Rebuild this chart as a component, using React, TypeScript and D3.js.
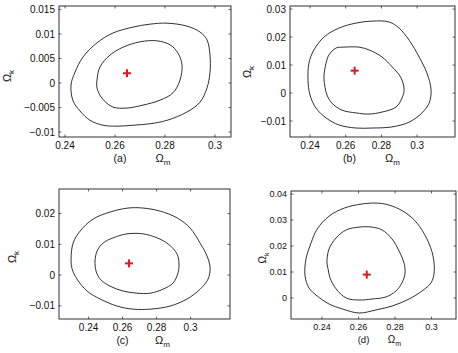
import React from 'react';
import * as d3 from 'd3';

type Pt = [number, number];

// ---------- data (Omega_m, Omega_k) ----------
const xTicks = [0.24, 0.26, 0.28, 0.3];
const yTicksA = [-0.01, -0.005, 0, 0.005, 0.01, 0.015];
const yTicksB = [-0.01, 0, 0.01, 0.02, 0.03];
const yTicksC = [-0.01, 0, 0.01, 0.02];
const yTicksD = [0, 0.01, 0.02, 0.03, 0.04];
const panelLabels = ['(a)', '(b)', '(c)', '(d)'];

const outerA: Pt[] = [
  [0.2424, -0.0004], [0.2440, 0.0022], [0.2472, 0.0053], [0.2528, 0.0082], [0.2592, 0.0102],
  [0.2672, 0.0114], [0.2740, 0.0120], [0.2808, 0.0122], [0.2888, 0.0116], [0.2940, 0.0104],
  [0.2968, 0.0088], [0.2980, 0.0057], [0.2980, 0.0022], [0.2968, -0.0010], [0.2940, -0.0039],
  [0.2888, -0.0059], [0.2808, -0.0076], [0.2740, -0.0083], [0.2672, -0.0086], [0.2608, -0.0088],
  [0.2552, -0.0086], [0.2500, -0.0076], [0.2460, -0.0057], [0.2432, -0.0036],
];
const innerA: Pt[] = [
  [0.2528, 0.0006], [0.2540, 0.0033], [0.2580, 0.0057], [0.2632, 0.0073], [0.2700, 0.0084],
  [0.2768, 0.0086], [0.2820, 0.0078], [0.2852, 0.0061], [0.2868, 0.0037], [0.2860, 0.0006],
  [0.2832, -0.0020], [0.2780, -0.0035], [0.2712, -0.0045], [0.2648, -0.0051], [0.2592, -0.0049],
  [0.2548, -0.0031], [0.2528, -0.0010],
];
const bestA: Pt = [0.2648, 0.002];

const outerB: Pt[] = [
  [0.2389, 0.0046], [0.2394, 0.0107], [0.2422, 0.0154], [0.2478, 0.0200], [0.2562, 0.0232],
  [0.2658, 0.0250], [0.2747, 0.0257], [0.2843, 0.0254], [0.2899, 0.0232], [0.2955, 0.0189],
  [0.3011, 0.0129], [0.3055, 0.0071], [0.3078, 0.0011], [0.3067, -0.0036], [0.3027, -0.0071],
  [0.2955, -0.0104], [0.2859, -0.0121], [0.2747, -0.0125], [0.2658, -0.0125], [0.2562, -0.0114],
  [0.2490, -0.0089], [0.2434, -0.0054], [0.2400, -0.0007],
];
const innerB: Pt[] = [
  [0.2478, 0.0057], [0.2490, 0.0107], [0.2506, 0.0136], [0.2546, 0.0161], [0.2590, 0.0164],
  [0.2675, 0.0164], [0.2731, 0.0154], [0.2803, 0.0129], [0.2861, 0.0093], [0.2910, 0.0054],
  [0.2927, 0.0011], [0.2915, -0.0018], [0.2882, -0.0050], [0.2803, -0.0068], [0.2731, -0.0075],
  [0.2658, -0.0071], [0.2579, -0.0061], [0.2523, -0.0036], [0.2495, -0.0007], [0.2484, 0.0021],
];
const bestB: Pt = [0.265, 0.008];

const outerC: Pt[] = [
  [0.2297, 0.0052], [0.2309, 0.0104], [0.2350, 0.0143], [0.2426, 0.0182], [0.2526, 0.0205],
  [0.2632, 0.0218], [0.2721, 0.0218], [0.2821, 0.0208], [0.2921, 0.0186], [0.2997, 0.0153],
  [0.3056, 0.0104], [0.3097, 0.0062], [0.3115, 0.0023], [0.3103, -0.0013], [0.3056, -0.0046],
  [0.2979, -0.0078], [0.2879, -0.0101], [0.2762, -0.0111], [0.2662, -0.0111], [0.2568, -0.0101],
  [0.2468, -0.0078], [0.2391, -0.0052], [0.2332, -0.0013], [0.2303, 0.0020],
];
const innerC: Pt[] = [
  [0.2438, 0.0046], [0.2450, 0.0078], [0.2485, 0.0104], [0.2544, 0.0121], [0.2626, 0.0134],
  [0.2721, 0.0134], [0.2803, 0.0121], [0.2868, 0.0101], [0.2921, 0.0068], [0.2932, 0.0036],
  [0.2926, 0.0007], [0.2897, -0.0026], [0.2838, -0.0046], [0.2762, -0.0059], [0.2685, -0.0059],
  [0.2603, -0.0052], [0.2526, -0.0036], [0.2468, -0.0013], [0.2444, 0.0013],
];
const bestC: Pt = [0.2638, 0.0038];

const outerD: Pt[] = [
  [0.2307, 0.0085], [0.2312, 0.0150], [0.2340, 0.0212], [0.2373, 0.0265], [0.2438, 0.0315],
  [0.2521, 0.0346], [0.2619, 0.0362], [0.2712, 0.0365], [0.2784, 0.0354], [0.2860, 0.0327],
  [0.2921, 0.0288], [0.2975, 0.0227], [0.3008, 0.0162], [0.3014, 0.0096], [0.2997, 0.0058],
  [0.2948, 0.0027], [0.2877, -0.0004], [0.2784, -0.0031], [0.2696, -0.0046], [0.2603, -0.0058],
  [0.2510, -0.0042], [0.2438, -0.0023], [0.2373, 0.0008], [0.2329, 0.0038],
];
const innerD: Pt[] = [
  [0.2427, 0.0135], [0.2438, 0.0188], [0.2477, 0.0231], [0.2532, 0.0262], [0.2603, 0.0273],
  [0.2674, 0.0273], [0.2729, 0.0262], [0.2784, 0.0227], [0.2822, 0.0181], [0.2849, 0.0135],
  [0.2855, 0.0096], [0.2838, 0.0058], [0.2805, 0.0027], [0.2751, 0.0004], [0.2674, -0.0004],
  [0.2603, -0.0008], [0.2532, 0.0000], [0.2477, 0.0035], [0.2444, 0.0077], [0.2433, 0.0112],
];
const bestD: Pt = [0.2645, 0.009];

// axis limits per panel
const xDomains: Pt[] = [[0.2376, 0.3064], [0.2288, 0.3212], [0.2226, 0.3232], [0.2230, 0.3134]];
const yDomains: Pt[] = [[-0.011, 0.0157], [-0.0157, 0.0311], [-0.0143, 0.0280], [-0.0081, 0.0412]];

// ---------- layout ----------
const boxes = [
  { left: 59, right: 231, top: 6, bottom: 137, font: 10, labOff: -25, omOff: 18, ylabX: 11, ylabY: 76, xlabY: 162 },
  { left: 290, right: 455, top: 6, bottom: 137, font: 10, labOff: -23, omOff: 20, ylabX: 251, ylabY: 72, xlabY: 162 },
  { left: 59, right: 230, top: 189, bottom: 319, font: 10, labOff: -22, omOff: 18, ylabX: 16, ylabY: 257, xlabY: 344 },
  { left: 291, right: 456, top: 191, bottom: 319, font: 9, labOff: -10, omOff: 21, ylabX: 266, ylabY: 258, xlabY: 343 },
];

const panels = [
  { outer: outerA, inner: innerA, best: bestA, yTicks: yTicksA },
  { outer: outerB, inner: innerB, best: bestB, yTicks: yTicksB },
  { outer: outerC, inner: innerC, best: bestC, yTicks: yTicksC },
  { outer: outerD, inner: innerD, best: bestD, yTicks: yTicksD },
];

const FONT = '"Liberation Sans", Arial, Helvetica, sans-serif';
const fmt = (v: number) => String(+v.toFixed(4)).replace('-', '\u2212');

function Panel({ i }: { i: number }) {
  const b = boxes[i];
  const p = panels[i];
  const x = d3.scaleLinear().domain(xDomains[i]).range([b.left, b.right]);
  const y = d3.scaleLinear().domain(yDomains[i]).range([b.bottom, b.top]);
  const line = d3
    .line<Pt>()
    .x((d) => x(d[0]))
    .y((d) => y(d[1]))
    .curve(d3.curveCatmullRomClosed.alpha(0.5));
  const tl = 2.5;
  const cx = (b.left + b.right) / 2;
  const bx = x(p.best[0]);
  const by = y(p.best[1]);
  return (
    <g fontFamily={FONT} fill="#111">
      <path d={line(p.outer) || ''} fill="none" stroke="#1a1a1a" strokeWidth={0.9} />
      <path d={line(p.inner) || ''} fill="none" stroke="#1a1a1a" strokeWidth={0.9} />
      <g stroke="#e8141b" strokeWidth={2}>
        <line x1={bx - 4} x2={bx + 4} y1={by} y2={by} />
        <line x1={bx} x2={bx} y1={by - 4} y2={by + 4} />
      </g>
      <rect x={b.left} y={b.top} width={b.right - b.left} height={b.bottom - b.top} fill="none" stroke="#000" strokeWidth={0.8} />
      {xTicks.map((t) => (
        <g key={'x' + t}>
          <line x1={x(t)} x2={x(t)} y1={b.bottom} y2={b.bottom - tl} stroke="#000" strokeWidth={0.6} />
          <line x1={x(t)} x2={x(t)} y1={b.top} y2={b.top + tl} stroke="#000" strokeWidth={0.6} />
          <text x={x(t)} y={b.bottom + 4 + b.font * 0.8} fontSize={b.font} textAnchor="middle">
            {fmt(t)}
          </text>
        </g>
      ))}
      {p.yTicks.map((t) => (
        <g key={'y' + t}>
          <line x1={b.left} x2={b.left + tl} y1={y(t)} y2={y(t)} stroke="#000" strokeWidth={0.6} />
          <line x1={b.right} x2={b.right - tl} y1={y(t)} y2={y(t)} stroke="#000" strokeWidth={0.6} />
          <text x={b.left - 4} y={y(t) + b.font * 0.36} fontSize={b.font} textAnchor="end">
            {fmt(t)}
          </text>
        </g>
      ))}
      <text x={cx + b.labOff} y={b.xlabY} fontSize={b.font + 0.5} textAnchor="middle">
        {panelLabels[i]}
      </text>
      <text x={cx + b.omOff} y={b.xlabY} fontSize={b.font + 1} textAnchor="middle">
        Ω<tspan fontSize={b.font - 2} dy={3}>m</tspan>
      </text>
      <text
        transform={`translate(${b.ylabX},${b.ylabY}) rotate(-90)`}
        fontSize={b.font + 1}
        textAnchor="middle"
      >
        Ω<tspan fontSize={b.font - 2} dy={3}>k</tspan>
      </text>
    </g>
  );
}

export default function App() {
  return (
    <svg
      width={458}
      height={353}
      viewBox="0 0 458 353"
      style={{ position: 'absolute', left: 0, top: 0, background: '#fff' }}
    >
      <rect width={458} height={353} fill="#fff" />
      {[0, 1, 2, 3].map((i) => (
        <Panel key={i} i={i} />
      ))}
    </svg>
  );
}
